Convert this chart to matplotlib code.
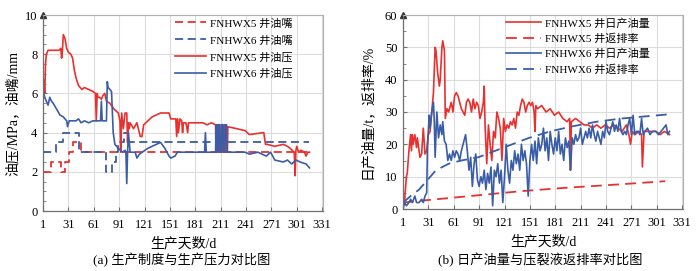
import numpy as np
import matplotlib
matplotlib.use("Agg")
from matplotlib import pyplot as plt
from matplotlib.ticker import MultipleLocator

plt.rcParams['font.family'] = ['Liberation Serif', 'Noto Sans CJK SC']
plt.rcParams['axes.unicode_minus'] = False

# ---- (a) 油嘴 / 油压 ----
x5_choke_d = [1, 10, 22, 27, 32, 37, 46, 316]
x5_choke_v = [2, 2.5, 2, 2.5, 3, 3.5, 3, 3]
x6_choke_d = [1, 16, 25, 44, 75, 83, 87, 90, 97, 101, 316]
x6_choke_v = [3, 3.5, 4, 3, 2, 2.5, 3, 3.5, 4, 3.5, 3.5]

x5_p_d = [1, 2, 3, 4, 5, 7, 12, 20, 22, 23, 24, 25, 27, 29, 31, 34, 36, 38, 40, 43, 47, 50,
          55, 60, 63, 64, 65, 66, 68, 70, 72, 74, 76, 80, 85, 90, 92, 93, 94, 96, 98, 100, 101,
          102, 103, 104, 108, 112, 116, 118, 120, 125, 130, 140, 150, 152, 158, 159, 160, 161,
          163, 165, 166, 167, 170, 172, 173, 175, 190, 195, 200, 205, 205.5, 207, 207.5, 209,
          209.5, 211, 211.5, 213, 213.5, 215, 215.5, 217, 217.5, 219, 219.5, 230, 240, 245, 262,
          264, 266, 275, 285, 290, 293, 298, 299, 300, 301, 303, 306, 310, 312, 314, 316]
x5_p_v = [5.9, 6.7, 6.0, 7.5, 8.0, 8.2, 8.2, 8.2, 8.3, 7.8, 8.2, 9.0, 8.8, 8.3, 8.1, 8.0, 7.8,
          7.2, 6.8, 6.4, 6.2, 6.3, 6.2, 6.1, 6.0, 4.6, 6.0, 5.8, 5.8, 5.7, 5.9, 6.0, 5.6, 5.5,
          5.2, 5.0, 4.6, 3.0, 5.0, 4.2, 5.0, 5.0, 3.5, 4.5, 4.2, 4.5, 4.2, 4.5, 3.8, 3.8, 4.4,
          4.6, 4.8, 5.0, 5.0, 4.7, 4.7, 3.8, 4.7, 4.0, 4.7, 4.6, 4.0, 4.5, 4.5, 4.0, 4.5, 4.5,
          4.5, 4.4, 4.5, 4.4, 3.0, 3.0, 4.4, 4.4, 3.0, 3.0, 4.4, 4.4, 3.0, 3.0, 4.4, 4.4, 3.0,
          3.0, 4.3, 4.2, 4.1, 3.9, 4.0, 3.4, 3.4, 3.3, 3.4, 3.3, 3.2, 3.0, 1.8, 3.1, 3.3, 3.0,
          3.1, 3.0, 2.8, 3.0, 3.0]
x6_p_d = [1, 3, 5, 7, 9, 11, 13, 17, 21, 25, 29, 30, 32, 40, 43, 46, 50, 55, 60, 66, 69, 70,
          71, 76, 77, 78, 80, 82, 84, 86, 90, 95, 98, 99, 100, 101, 102, 104, 110, 112, 115, 125,
          135, 140, 145, 150, 152, 157, 160, 192, 193, 194, 205, 205.5, 206.5, 207, 208, 208.5,
          210, 210.5, 212, 212.5, 214, 214.5, 216, 216.5, 218, 218.5, 220, 240, 245, 255, 260,
          265, 270, 275, 285, 290, 295, 300, 305, 312, 316]
x6_p_v = [6.2, 5.8, 5.6, 5.4, 5.8, 5.6, 5.5, 5.2, 4.9, 4.8, 4.6, 4.3, 4.6, 4.6, 4.7, 4.5, 4.6,
          4.5, 4.6, 4.6, 4.6, 5.6, 4.6, 4.6, 6.6, 6.3, 6.2, 6.1, 4.0, 3.4, 3.2, 3.0, 3.1, 3.0,
          1.4, 3.0, 4.0, 3.0, 3.0, 2.7, 2.9, 3.2, 3.4, 3.5, 3.2, 2.8, 2.7, 2.8, 3.0, 3.0, 4.0,
          3.0, 3.0, 4.4, 4.4, 3.0, 3.0, 4.4, 4.4, 3.0, 3.0, 4.4, 4.4, 3.0, 3.0, 4.4, 4.4, 3.0,
          3.0, 3.0, 2.9, 3.0, 2.9, 2.8, 3.0, 2.6, 2.5, 2.6, 2.4, 2.6, 2.5, 2.4, 2.2]

# ---- (b) 日产油量 / 返排率 ----
x5_oil_d = [1, 3, 5, 6, 8, 10, 11, 12, 13, 15, 17, 18, 20, 21, 23, 25, 27, 29, 31, 33, 35, 37,
            39, 40, 42, 44, 45, 47, 48, 50, 51, 53, 55, 58, 60, 62, 64, 66, 68, 70, 72, 74, 76,
            78, 80, 82, 84, 86, 88, 90, 92, 94, 96, 97, 98, 100, 102, 104, 106, 108, 110, 112,
            114, 116, 118, 120, 122, 124, 126, 128, 130, 132, 134, 136, 138, 140, 142, 144, 146,
            148, 150, 152, 154, 156, 157, 158, 160, 165, 170, 175, 180, 185, 190, 195, 198, 199,
            200, 205, 210, 215, 220, 225, 230, 235, 240, 245, 250, 255, 260, 265, 268, 270, 272,
            275, 280, 283, 284, 286, 290, 295, 300, 305, 310, 316]
x5_oil_v = [1, 3, 10, 11, 18, 23, 18, 23, 20, 23, 19, 22, 18, 16, 17, 25, 17, 18, 23, 24, 30,
            36, 50, 49, 42, 38, 40, 50, 52, 49, 28, 31, 30, 33, 30, 35, 36, 35, 33, 31, 30, 29,
            33, 34, 33, 30, 34, 31, 33, 32, 28, 30, 33, 38, 26, 14, 26, 20, 15, 24, 22, 30, 28,
            25, 15, 28, 24, 26, 25, 27, 26, 28, 25, 30, 29, 32, 34, 33, 30, 32, 33, 32, 33, 30,
            24, 32, 31, 32, 30, 31, 29, 30, 28, 27, 28, 12, 27, 28, 27, 26, 26, 25, 26, 25, 26,
            25, 26, 25, 24, 26, 23, 20, 24, 23, 24, 23, 13, 24, 24, 24, 24, 23, 24, 23]
x5_flow_d = [1, 20, 60, 100, 140, 190, 250, 311]
x5_flow_v = [2.0, 2.5, 3.5, 4.5, 5.5, 6.5, 7.5, 8.6]

x6_oil_d = [1, 3, 5, 8, 10, 12, 15, 17, 20, 23, 25, 27, 29, 30, 32, 33, 35, 37, 38, 39, 41, 43,
            45, 47, 48, 50, 52, 54, 56, 58, 60, 62, 64, 66, 68, 70, 72, 74, 75, 77, 79, 81, 83,
            85, 87, 89, 91, 93, 95, 97, 99, 101, 103, 105, 107, 109, 111, 113, 115, 117, 119,
            121, 123, 125, 127, 129, 131, 133, 135, 137, 139, 141, 143, 145, 147, 149, 151, 153,
            155, 157, 159, 161, 163, 165, 167, 169, 171, 173, 175, 177, 179, 181, 183, 185, 187,
            189, 191, 193, 195, 197, 199, 201, 203, 205, 207, 209, 211, 213, 215, 217, 219, 221,
            223, 225, 227, 229, 231, 233, 235, 237, 239, 241, 243, 245, 247, 249, 251, 253, 255,
            257, 259, 261, 263, 265, 267, 269, 271, 273, 275, 277, 279, 281, 283, 285, 287, 290,
            293, 296, 300, 303, 306, 309, 312, 314, 316]
x6_oil_v = [0, 2, 1, 2, 3, 2, 4, 2, 2, 3, 2, 4, 5, 20, 29, 25, 30, 33, 27, 16, 30, 22, 26, 23,
            27, 21, 20, 15, 17, 15, 18, 16, 18, 17, 15, 18, 20, 22, 23, 18, 12, 16, 7, 14, 17, 9,
            7, 10, 8, 12, 6, 11, 8, 13, 1, 12, 10, 14, 8, 12, 2, 10, 20, 12, 8, 15, 12, 18, 14,
            17, 12, 20, 15, 18, 14, 4, 15, 20, 15, 21, 14, 22, 18, 20, 25, 18, 22, 15, 24, 20,
            17, 22, 18, 24, 17, 20, 15, 22, 19, 21, 12, 22, 20, 23, 21, 22, 25, 20, 22, 24, 22,
            25, 22, 26, 23, 21, 24, 22, 20, 24, 22, 27, 24, 23, 25, 27, 24, 26, 24, 28, 24, 23,
            24, 23, 26, 28, 23, 29, 23, 24, 24, 23, 28, 23, 24, 25, 23, 24, 24, 23, 24, 25, 26,
            23, 24]
x6_flow_d = [1, 10, 20, 30, 40, 55, 70, 90, 100, 115, 130, 150, 175, 200, 230, 260, 290, 316]
x6_flow_v = [2, 4, 6, 9, 12, 14, 15, 16, 17, 18.5, 20, 22, 24, 25.5, 27, 28, 28.7, 29.3]

RED = '#e8312f'
BLUE = '#3a5da8'
dash = (0, (4.5, 2.5))

fig = plt.figure(figsize=(7, 2.71), dpi=100)
ax1 = fig.add_axes([43/700, 60/271, 280/700, 196/271])
ax2 = fig.add_axes([403/700, 62/271, 280/700, 194/271])


def style(ax, ymax, ymaj, ymin):
    ax.set_xlim(1, 332)
    ax.set_ylim(0, ymax)
    ax.set_xticks(np.arange(1, 332, 30))
    ax.yaxis.set_major_locator(MultipleLocator(ymaj))
    ax.yaxis.set_minor_locator(MultipleLocator(ymin))
    ax.grid(True, which='major', color='#dcdcdc', lw=0.8)
    ax.set_axisbelow(True)
    for s in ['top', 'right']:
        ax.spines[s].set_color('#b0b0b0')
        ax.spines[s].set_linewidth(0.8)
    for s in ['left', 'bottom']:
        ax.spines[s].set_color('#707070')
        ax.spines[s].set_linewidth(0.9)
    ax.tick_params(axis='x', which='major', labelsize=9, length=3, direction='in',
                   color='#707070', pad=6)
    ax.tick_params(axis='y', which='major', labelsize=9, length=3, direction='in',
                   color='#707070', pad=4)
    ax.tick_params(axis='y', which='minor', length=2, direction='in', color='#707070')
    ax.plot([0], [1.0], marker='^', ms=4, color='#333333', transform=ax.transAxes,
            clip_on=False)
    ax.set_xlabel('生产天数/d', fontsize=10, labelpad=4)


style(ax1, 10, 2, 0.5)
ax1.plot(x5_choke_d, x5_choke_v, color=RED, lw=1.3, ls=dash, drawstyle='steps-post',
         label='FNHWX5 井油嘴')
ax1.plot(x6_choke_d, x6_choke_v, color=BLUE, lw=1.3, ls=dash, drawstyle='steps-post',
         label='FNHWX6 井油嘴')
ax1.plot(x5_p_d, x5_p_v, color=RED, lw=1.2, label='FNHWX5 井油压')
ax1.plot(x6_p_d, x6_p_v, color=BLUE, lw=1.2, label='FNHWX6 井油压')
ax1.set_ylabel('油压/MPa，油嘴/mm', fontsize=10, labelpad=4)
ax1.legend(loc='upper right', bbox_to_anchor=(0.89, 0.985), frameon=False, fontsize=8,
           handlelength=2.8, labelspacing=0.6, borderaxespad=0, borderpad=0,
           handletextpad=0.3)

style(ax2, 60, 10, 5)
ax2.plot(x5_oil_d, x5_oil_v, color=RED, lw=1.2, label='FNHWX5 井日产油量')
ax2.plot(x5_flow_d, x5_flow_v, color=RED, lw=1.3, ls=(0, (6, 3.5)), label='FNHWX5 井返排率')
ax2.plot(x6_oil_d, x6_oil_v, color=BLUE, lw=1.2, label='FNHWX6 井日产油量')
ax2.plot(x6_flow_d, x6_flow_v, color=BLUE, lw=1.3, ls=(0, (6, 3.5)), label='FNHWX6 井返排率')
ax2.set_ylabel('日产油量/t，返排率/%', fontsize=10, labelpad=8)
ax2.legend(loc='upper right', bbox_to_anchor=(0.88, 0.985), frameon=False, fontsize=8,
           handlelength=3.2, labelspacing=0.45, borderaxespad=0, borderpad=0,
           handletextpad=0.3)

fig.text(182/700, 1 - 260/271, '(a) 生产制度与生产压力对比图', ha='center', va='center',
         fontsize=9.5)
fig.text(540/700, 1 - 260/271, '(b) 日产油量与压裂液返排率对比图', ha='center', va='center',
         fontsize=9.5)

fig.savefig('out.png', dpi=100)
